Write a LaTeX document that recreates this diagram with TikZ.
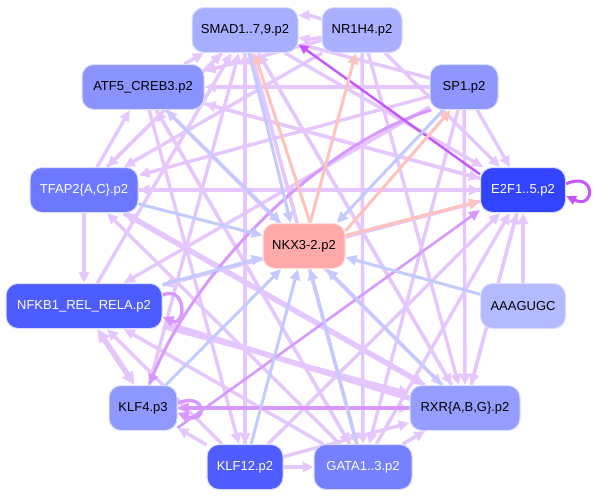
\documentclass[tikz,border=0pt]{standalone}
\usepackage{fontspec}
\setmainfont{Liberation Sans}
\usetikzlibrary{arrows.meta,backgrounds}
\definecolor{lp}{HTML}{E6C6FF}
\definecolor{mp}{HTML}{D898FF}
\definecolor{dp}{HTML}{C455FF}
\definecolor{bl}{HTML}{C3CAFF}
\definecolor{pk}{HTML}{FFC2BC}
\definecolor{nodeline}{HTML}{DADEFF}
\begin{document}
\begin{tikzpicture}[x=1pt,y=-1pt,
  nd/.style={rounded corners=12pt, minimum height=45pt, inner sep=0pt,
    font=\fontsize{13}{15}\selectfont, draw=nodeline, line width=1pt},
  tip/.style={-{Triangle[length=11pt,width=10pt]}},
  le/.style={tip, draw=lp, color=lp, line width=3.4pt},
  lethick/.style={draw=lp, color=lp, line width=5.5pt, -{Triangle[length=13pt,width=12pt]}},
  me/.style={tip, draw=mp, color=mp, line width=3.4pt},
  de/.style={draw=dp, color=dp, line width=2.4pt, -{Triangle[length=10pt,width=9pt]}},
  be/.style={tip, draw=bl, line width=3pt, color=bl},
  pe/.style={tip, draw=pk, line width=3pt, color=pk}]
\useasboundingbox (0,0) rectangle (596,498);

\node[nd, fill={rgb,255:red,168;green,174;blue,255}, minimum width=106pt] (smad) at (245,30) {SMAD1..7,9.p2};
\node[nd, fill={rgb,255:red,170;green,176;blue,255}, minimum width=80pt] (nr) at (362,30) {NR1H4.p2};
\node[nd, fill={rgb,255:red,139;green,147;blue,255}, minimum width=122pt] (atf) at (143,87) {ATF5\_CREB3.p2};
\node[nd, fill={rgb,255:red,143;green,151;blue,255}, minimum width=68pt] (sp1) at (464,87) {SP1.p2};
\node[nd, fill={rgb,255:red,108;green,120;blue,255}, text=white, minimum width=108pt] (tfap) at (84,190) {TFAP2\{A,C\}.p2};
\node[nd, fill={rgb,255:red,51;green,68;blue,255}, text=white, minimum width=85pt] (e2f) at (523,190) {E2F1..5.p2};
\node[nd, fill={rgb,255:red,255;green,170;blue,170}, draw={rgb,255:red,255;green,222;blue,222}, minimum width=82pt] (nkx) at (304,246) {NKX3-2.p2};
\node[nd, fill={rgb,255:red,77;green,92;blue,255}, text=white, minimum width=156pt] (nfkb) at (84,306) {NFKB1\_REL\_RELA.p2};
\node[nd, fill={rgb,255:red,180;green,186;blue,255}, minimum width=85pt] (aaa) at (523,306) {AAAGUGC};
\node[nd, fill={rgb,255:red,143;green,152;blue,255}, minimum width=68pt] (klf4) at (143,408) {KLF4.p3};
\node[nd, fill={rgb,255:red,149;green,157;blue,255}, minimum width=110pt] (rxr) at (465,408) {RXR\{A,B,G\}.p2};
\node[nd, fill={rgb,255:red,79;green,93;blue,255}, text=white, minimum width=76pt] (klf12) at (245,467) {KLF12.p2};
\node[nd, fill={rgb,255:red,117;green,128;blue,255}, text=white, minimum width=98pt] (gata) at (363,467) {GATA1..3.p2};

\begin{scope}[on background layer]
  % light purple edges
  \foreach \a/\b in {atf/smad, tfap/smad, nfkb/smad, klf4/smad, klf12/smad, gata/smad, rxr/smad, sp1/smad,
    sp1/atf, e2f/atf, rxr/atf, gata/atf, tfap/atf, nr/atf,
    e2f/tfap, sp1/tfap, nr/tfap, rxr/tfap, gata/tfap, smad/tfap,
    atf/e2f, tfap/e2f, nfkb/e2f, sp1/e2f, nr/e2f, smad/e2f, aaa/e2f, rxr/e2f, gata/e2f, klf12/e2f,
    tfap/nfkb, e2f/nfkb, sp1/nfkb, klf12/nfkb, gata/nfkb,
    klf12/klf4,
    smad/rxr, nr/rxr, sp1/rxr, e2f/rxr, atf/rxr, nfkb/rxr, klf4/rxr, gata/rxr, klf12/rxr,
    klf12/gata, atf/gata, smad/gata, nr/gata, sp1/gata,
    atf/klf12, smad/klf12}
    \draw[le] (\a) -- (\b);
  \draw[le] (nr.165) to[bend right=12] (smad.15);
  \draw[le] (nr.190) to[bend left=12] (smad.-8);
  \draw[lethick] (tfap) -- (rxr);
  \draw[lethick, {Triangle[length=13pt,width=12pt]}-{Triangle[length=13pt,width=12pt]}] (nfkb.-60) -- (klf4.110);
  \draw[lethick] (rxr.170) -- (nfkb.-12);
  \draw[me] (rxr.west) -- (klf4.east);
  \draw[me, line width=2.6pt] (klf4.-30) -- (e2f.205);
  \draw[me] (klf4.8) .. controls +(30,-12) and +(30,12) .. (klf4.-8);
  \draw[me] (nfkb.8) .. controls +(24,-10) and +(24,10) .. (nfkb.-8);
  \draw[me, line width=3pt] (sp1.215) .. controls (330,140) and (200,260) .. (klf4.75);
  \draw[de] (e2f.160) -- (smad.-15);
  \draw[de, line width=3pt] (e2f.8) .. controls +(30,-14) and +(30,14) .. (e2f.-8);
  % blue edges into NKX3-2
  \foreach \a in {atf, tfap, nfkb, klf4, klf12, gata, rxr, aaa}
    \draw[be] (\a) -- (nkx);
  \draw[be] (smad.-80) -- (nkx.120);
  \draw[be] (sp1.228) -- (nkx.35);
  % pink edges from NKX3-2
  \draw[pe] (nkx.75) -- (smad.-68);
  \draw[pe] (nkx.20) -- (sp1.240);
  \draw[pe] (nkx) -- (nr);
  \draw[pe] (nkx) -- (e2f);
\end{scope}
\end{tikzpicture}
\end{document}
